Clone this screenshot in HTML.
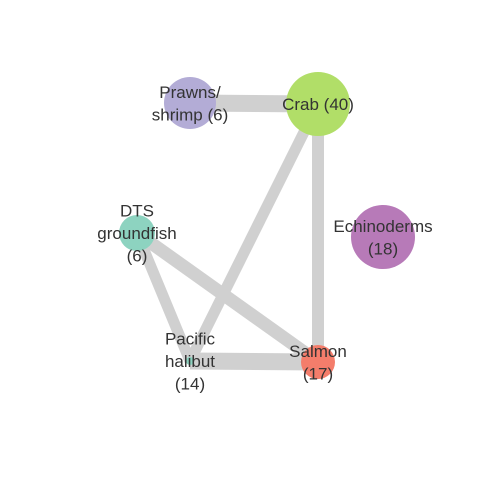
<!DOCTYPE html>
<html><head><meta charset="utf-8"><style>
html,body{margin:0;padding:0;background:#fff;}
svg text{font-family:"Liberation Sans",sans-serif;font-size:17px;fill:#333;text-anchor:middle;}
</style></head><body>
<svg id="chart" width="480" height="480"></svg>
<script>
const nodeNames=["Prawns/\nshrimp (6)","Crab (40)","DTS\ngroundfish\n(6)","Echinoderms\n(18)","Pacific\nhalibut\n(14)","Salmon\n(17)"];
const nodeX=[190,318,137,383,190,318];
const nodeY=[103,104,233,237,361,362];
const nodeR=[26,32,18,32,4,17];
const nodeColors=["#b3acd6","#b1de68","#8dd3c0","#b77ab8","#8dd3c0","#f47d6b"];
const edgeFrom=[0,1,1,2,2,4];
const edgeTo=[1,5,4,4,5,5];
const edgeW=[17,12,11,11,13,17];
const NS="http://www.w3.org/2000/svg";
const svg=document.getElementById('chart');
for(let i=0;i<edgeFrom.length;i++){
  const l=document.createElementNS(NS,'line');
  l.setAttribute('x1',nodeX[edgeFrom[i]]);l.setAttribute('y1',nodeY[edgeFrom[i]]);
  l.setAttribute('x2',nodeX[edgeTo[i]]);l.setAttribute('y2',nodeY[edgeTo[i]]);
  l.setAttribute('stroke','#d0d0d0');l.setAttribute('stroke-width',edgeW[i]);
  
  
  svg.appendChild(l);
}
for(let i=0;i<nodeX.length;i++){
  const c=document.createElementNS(NS,'circle');
  c.setAttribute('cx',nodeX[i]);c.setAttribute('cy',nodeY[i]);c.setAttribute('r',nodeR[i]);
  c.setAttribute('fill',nodeColors[i]);
  
  
  svg.appendChild(c);
}
for(let i=0;i<nodeX.length;i++){
  const lines=nodeNames[i].split('\n');
  const t=document.createElementNS(NS,'text');
  
  
  const lh=22.5;
  const y0=nodeY[i]-(lines.length-1)*lh/2+6;
  lines.forEach((s,k)=>{
    const ts=document.createElementNS(NS,'tspan');
    ts.setAttribute('x',nodeX[i]);ts.setAttribute('y',y0+k*lh);
    ts.textContent=s;t.appendChild(ts);
  });
  svg.appendChild(t);
}
</script>
</body></html>
